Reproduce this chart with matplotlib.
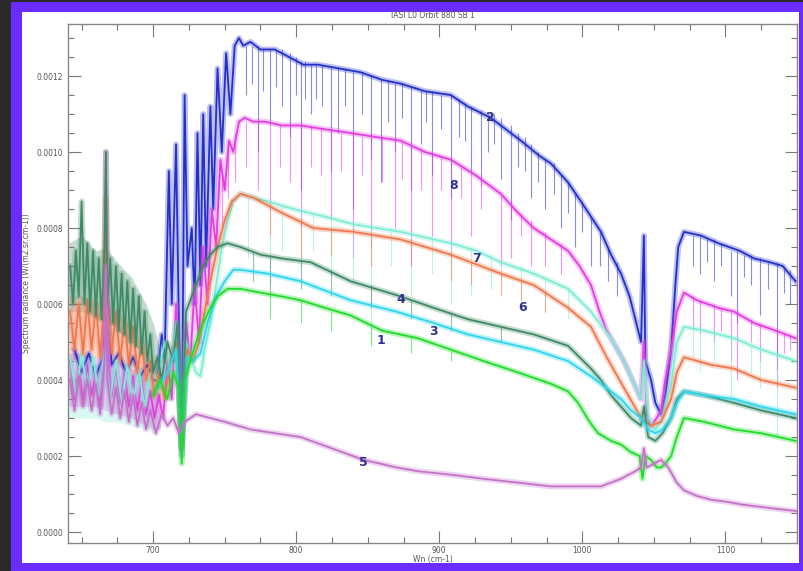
import matplotlib.pyplot as plt
from matplotlib.patches import Rectangle
from matplotlib.ticker import MultipleLocator, FormatStrFormatter

# ---- data (wavenumber cm-1, radiance) ----
# 1 : bright green
s1_wn = [700, 705, 710, 714, 718, 720, 722, 726, 730, 735, 740, 745, 752, 761, 775, 790,
         803, 820, 838, 860, 885, 908, 931, 955, 978, 990, 997, 1005, 1011, 1020, 1027,
         1034, 1040, 1042, 1044, 1048, 1052, 1055, 1058, 1062, 1066, 1071, 1085, 1106,
         1125, 1149]
s1_val = [0.00036, 0.00040, 0.00035, 0.00042, 0.00038, 0.00018, 0.00040, 0.00045, 0.00050,
          0.00055, 0.00059, 0.00062, 0.00064, 0.00064, 0.00063, 0.00062, 0.00061, 0.00059,
          0.00057, 0.00053, 0.00051, 0.00048, 0.00045, 0.00042, 0.00039, 0.00037, 0.00034,
          0.00029, 0.00026, 0.00024, 0.00023, 0.00021, 0.00020, 0.00014, 0.00020, 0.00019,
          0.00017, 0.00017, 0.00018, 0.00020, 0.00025, 0.00030, 0.00029, 0.00027, 0.00026,
          0.00024]

# 2 : blue
s2_wn = [645, 650, 655, 660, 665, 668, 671, 676, 681, 686, 691, 696, 700, 703, 706, 708,
         711, 713, 716, 718, 720, 722, 724, 727, 729, 731, 733, 735, 737, 740, 742, 745,
         748, 751, 754, 757, 760, 763, 768, 775, 785, 795, 805, 815, 830, 845, 860, 873,
         890, 908, 920, 936, 957, 970, 978, 990, 999, 1006, 1013, 1020, 1027, 1033, 1037,
         1041, 1043, 1044, 1048, 1051, 1055, 1058, 1062, 1065, 1067, 1071, 1083, 1095,
         1110, 1120, 1131, 1140, 1149]
s2_val = [0.00048, 0.00042, 0.00047, 0.00041, 0.00046, 0.00060, 0.00044, 0.00047, 0.00042,
          0.00046, 0.00041, 0.00044, 0.00040, 0.00040, 0.00052, 0.00045, 0.00095, 0.00060,
          0.00102, 0.00055, 0.00020, 0.00115, 0.00070, 0.00080, 0.00060, 0.00105, 0.00065,
          0.00110, 0.00070, 0.00112, 0.00085, 0.00122, 0.00100, 0.00126, 0.00110, 0.00128,
          0.00130, 0.00128, 0.00129, 0.00127, 0.00127, 0.00125, 0.00123, 0.00123, 0.00122,
          0.00121, 0.00119, 0.00118, 0.00116, 0.00115, 0.00112, 0.00109, 0.00103, 0.00099,
          0.00097, 0.00092, 0.00087, 0.00083, 0.00079, 0.00073, 0.00068, 0.00062, 0.00056,
          0.00050, 0.00078, 0.00045, 0.00040, 0.00034, 0.00031, 0.00036, 0.00048, 0.00065,
          0.00075, 0.00079, 0.00078, 0.00076, 0.00074, 0.00072, 0.00071, 0.00070, 0.00066]

# 3 : cyan
s3_wn = [703, 710, 716, 720, 724, 728, 733, 738, 744, 750, 756, 761, 780, 803, 838, 870,
         896, 920, 943, 966, 990, 1006, 1013, 1020, 1027, 1034, 1041, 1046, 1051, 1056,
         1062, 1066, 1071, 1085, 1106, 1125, 1149]
s3_val = [0.00038, 0.00042, 0.00048, 0.00022, 0.00046, 0.00045, 0.00047, 0.00055, 0.00062,
          0.00066, 0.00069, 0.00069, 0.00068, 0.00066, 0.00061, 0.00058, 0.00055, 0.00052,
          0.00050, 0.00048, 0.00045, 0.00041, 0.00039, 0.00037, 0.00035, 0.00032, 0.00030,
          0.00027, 0.00026, 0.00027, 0.00030, 0.00034, 0.00037, 0.00036, 0.00035, 0.00033,
          0.00031]

# 4 : dark sea green
s4_wn = [642, 644, 646, 648, 650, 652, 654, 656, 658, 660, 662, 664, 666, 667, 668, 670,
         672, 674, 676, 678, 680, 682, 684, 686, 688, 690, 692, 694, 696, 698, 700, 703,
         706, 710, 714, 717, 720, 723, 727, 731, 735, 740, 745, 752, 761, 775, 790, 810,
         838, 873, 896, 920, 943, 966, 990, 1006, 1013, 1020, 1027, 1034, 1041, 1043,
         1046, 1051, 1056, 1062, 1066, 1071, 1085, 1106, 1125, 1149]
s4_val = [0.00070, 0.00060, 0.00074, 0.00062, 0.00087, 0.00060, 0.00076, 0.00058, 0.00074,
          0.00057, 0.00072, 0.00056, 0.00075, 0.00100, 0.00060, 0.00072, 0.00055, 0.00070,
          0.00053, 0.00068, 0.00052, 0.00066, 0.00050, 0.00064, 0.00049, 0.00062, 0.00047,
          0.00058, 0.00045, 0.00052, 0.00042, 0.00046, 0.00040, 0.00050, 0.00045, 0.00055,
          0.00022, 0.00058, 0.00062, 0.00066, 0.00070, 0.00073, 0.00075, 0.00076, 0.00075,
          0.00073, 0.00072, 0.00071, 0.00066, 0.00062, 0.00059, 0.00056, 0.00054, 0.00052,
          0.00049, 0.00043, 0.00040, 0.00036, 0.00033, 0.00030, 0.00028, 0.00033, 0.00025,
          0.00024, 0.00026, 0.00030, 0.00035, 0.00037, 0.00036, 0.00034, 0.00032, 0.00030]

# 5 : orchid
s5_wn = [642, 645, 648, 651, 654, 657, 660, 663, 666, 667, 668, 671, 674, 677, 680, 683,
         686, 689, 692, 695, 698, 702, 706, 710, 714, 718, 722, 730, 740, 750, 768, 785,
         803, 825, 847, 870, 885, 910, 931, 955, 978, 996, 1013, 1027, 1037, 1041, 1043,
         1045, 1050, 1055, 1060, 1066, 1071, 1080, 1090, 1100, 1112, 1125, 1138, 1150]
s5_val = [0.00040, 0.00032, 0.00041, 0.00033, 0.00040, 0.00032, 0.00039, 0.00031, 0.00045,
          0.00070, 0.00040, 0.00031, 0.00038, 0.00030, 0.00037, 0.00029, 0.00036, 0.00028,
          0.00034, 0.00027, 0.00032, 0.00026, 0.00031, 0.00028, 0.00030, 0.00026, 0.00029,
          0.00031, 0.00030, 0.00029, 0.00027, 0.00026, 0.00025, 0.00022, 0.00019, 0.00017,
          0.00016, 0.00015, 0.00014, 0.00013, 0.00012, 0.00012, 0.00012, 0.00014, 0.00016,
          0.00017, 0.00022, 0.00017, 0.00018, 0.00019, 0.00017, 0.00013, 0.00011, 0.000095,
          0.000085, 0.00008, 0.000072, 0.000066, 0.00006, 0.000055]

# 6 : coral
s6_wn = [642, 645, 648, 651, 654, 657, 660, 663, 666, 667, 668, 671, 674, 677, 680, 683,
         686, 689, 692, 695, 698, 701, 704, 708, 712, 716, 720, 724, 728, 732, 736, 740,
         745, 750, 755, 761, 770, 790, 812, 840, 873, 908, 943, 966, 990, 1006, 1017, 1029,
         1041, 1048, 1055, 1062, 1066, 1071, 1090, 1106, 1125, 1149]
s6_val = [0.00058, 0.00048, 0.00060, 0.00047, 0.00061, 0.00048, 0.00060, 0.00046, 0.00062,
          0.00088, 0.00058, 0.00047, 0.00058, 0.00045, 0.00056, 0.00044, 0.00054, 0.00042,
          0.00050, 0.00040, 0.00045, 0.00036, 0.00042, 0.00035, 0.00045, 0.00050, 0.00022,
          0.00048, 0.00045, 0.00050, 0.00058, 0.00066, 0.00075, 0.00082, 0.00087, 0.00089,
          0.00088, 0.00084, 0.00080, 0.00079, 0.00077, 0.00073, 0.00068, 0.00065, 0.00059,
          0.00054, 0.00046, 0.00038, 0.00030, 0.00028, 0.00029, 0.00035, 0.00042, 0.00046,
          0.00044, 0.00043, 0.00040, 0.00038]

# 7 : aquamarine
s7_wn = [642, 646, 650, 654, 658, 662, 666, 670, 674, 678, 682, 686, 690, 694, 698, 703,
         708, 712, 716, 720, 723, 727, 730, 733, 736, 740, 744, 748, 752, 756, 761, 770,
         780, 798, 820, 840, 873, 908, 926, 943, 966, 990, 1006, 1020, 1029, 1041, 1043,
         1046, 1051, 1056, 1062, 1066, 1071, 1085, 1106, 1125, 1149]
s7_val = [0.00046, 0.00036, 0.00047, 0.00037, 0.00046, 0.00036, 0.00048, 0.00035, 0.00045,
          0.00034, 0.00044, 0.00034, 0.00043, 0.00033, 0.00042, 0.00040, 0.00050, 0.00042,
          0.00055, 0.00020, 0.00050, 0.00045, 0.00042, 0.00041, 0.00048, 0.00055, 0.00065,
          0.00075, 0.00082, 0.00087, 0.00089, 0.00088, 0.00087, 0.00085, 0.00083, 0.00081,
          0.00079, 0.00076, 0.00074, 0.00071, 0.00068, 0.00064, 0.00058, 0.00051, 0.00045,
          0.00035, 0.00045, 0.00030, 0.00027, 0.00030, 0.00039, 0.00050, 0.00054, 0.00053,
          0.00051, 0.00048, 0.00045]

# 8 : magenta
s8_wn = [642, 645, 648, 651, 654, 657, 660, 663, 666, 667, 668, 671, 674, 677, 680, 683,
         686, 689, 692, 695, 698, 701, 704, 707, 710, 713, 716, 720, 723, 726, 729, 732,
         735, 738, 741, 744, 747, 750, 753, 756, 760, 764, 770, 778, 790, 803, 820, 838,
         855, 873, 890, 908, 925, 943, 955, 966, 978, 990, 998, 1006, 1012, 1017, 1023,
         1029, 1035, 1041, 1043, 1045, 1048, 1052, 1055, 1058, 1062, 1066, 1071, 1080,
         1095, 1106, 1120, 1135, 1149]
s8_val = [0.00045, 0.00035, 0.00043, 0.00034, 0.00044, 0.00036, 0.00042, 0.00033, 0.00050,
          0.00100, 0.00048, 0.00036, 0.00044, 0.00034, 0.00042, 0.00033, 0.00041, 0.00032,
          0.00040, 0.00031, 0.00037, 0.00030, 0.00036, 0.00030, 0.00045, 0.00035, 0.00060,
          0.00022, 0.00055, 0.00045, 0.00065, 0.00050, 0.00075, 0.00060, 0.00085, 0.00075,
          0.00098, 0.00090, 0.00103, 0.00100, 0.00108, 0.00109, 0.00108, 0.00108, 0.00107,
          0.00107, 0.00106, 0.00105, 0.00104, 0.00103, 0.00100, 0.00098, 0.00094, 0.00089,
          0.00084, 0.00080, 0.00077, 0.00074, 0.00070, 0.00065, 0.00058, 0.00053, 0.00049,
          0.00045, 0.00040, 0.00035, 0.00050, 0.00031, 0.00028, 0.00030, 0.00032, 0.00040,
          0.00048, 0.00058, 0.00063, 0.00061, 0.00059, 0.00058, 0.00055, 0.00053, 0.00051]

# absorption lines: position, top of line, bottom of line
s2_dip_wn = [765, 769, 773, 777, 782, 786, 790, 796, 800, 803, 806, 810, 814, 818, 824, 829,
             834, 840, 846, 852, 859, 864, 869, 874, 880, 887, 891, 895, 901, 908, 914, 918,
             922, 929, 934, 938, 943, 950, 955, 960, 964, 969, 974, 980, 985, 990, 995, 1000,
             1006, 1012, 1018, 1024,
             1077, 1082, 1087, 1092, 1097, 1104, 1108, 1113, 1118, 1124, 1130, 1136, 1141, 1145]
s2_dip_top = [0.00128, 0.00128, 0.00128, 0.00127, 0.00127, 0.00127, 0.00127, 0.00126, 0.00125,
              0.00124, 0.00124, 0.00123, 0.00123, 0.00123, 0.00122, 0.00122, 0.00122, 0.00121,
              0.00121, 0.00120, 0.00119, 0.00119, 0.00118, 0.00118, 0.00117, 0.00116, 0.00116,
              0.00116, 0.00115, 0.00115, 0.00114, 0.00113, 0.00112, 0.00111, 0.00110, 0.00110,
              0.00109, 0.00107, 0.00105, 0.00104, 0.00102, 0.00100, 0.00098, 0.00097, 0.00094,
              0.00092, 0.00089, 0.00087, 0.00083, 0.00079, 0.00075, 0.00071,
              0.00078, 0.00078, 0.00077, 0.00077, 0.00076, 0.00074, 0.00074, 0.00073, 0.00073,
              0.00072, 0.00071, 0.00071, 0.00070, 0.00069]
s2_dip_low = [0.00115, 0.00118, 0.00100, 0.00116, 0.00108, 0.00117, 0.00112, 0.00104, 0.00115,
              0.00090, 0.00114, 0.00110, 0.00114, 0.00112, 0.00095, 0.00105, 0.00112, 0.00085,
              0.00110, 0.00098, 0.00092, 0.00108, 0.00100, 0.00109, 0.00090, 0.00102, 0.00108,
              0.00094, 0.00106, 0.00088, 0.00104, 0.00103, 0.00095, 0.00091, 0.00100, 0.00102,
              0.00093, 0.00082, 0.00096, 0.00095, 0.00088, 0.00092, 0.00085, 0.00089, 0.00080,
              0.00084, 0.00075, 0.00079, 0.00070, 0.00070, 0.00066, 0.00062,
              0.00070, 0.00068, 0.00071, 0.00066, 0.00070, 0.00062, 0.00055, 0.00067, 0.00065,
              0.00057, 0.00064, 0.00043, 0.00063, 0.00060]

s8_dip_wn = [748, 752, 757, 765, 773, 782, 789, 796, 803, 810, 817, 824, 831, 840, 846, 852,
             860, 869, 874, 880, 887, 895, 901, 908, 915, 922, 929, 943, 950, 957, 964, 974,
             985, 1077, 1082, 1092, 1097, 1104, 1108, 1118, 1124, 1136, 1141, 1145]
s8_dip_top = [0.00095, 0.00102, 0.00105, 0.00108, 0.00108, 0.00108, 0.00107, 0.00107, 0.00107,
              0.00107, 0.00106, 0.00106, 0.00105, 0.00105, 0.00104, 0.00104, 0.00104, 0.00103,
              0.00103, 0.00102, 0.00101, 0.00100, 0.00099, 0.00098, 0.00096, 0.00095, 0.00093,
              0.00089, 0.00087, 0.00084, 0.00082, 0.00079, 0.00076, 0.00062, 0.00061, 0.00060,
              0.00059, 0.00058, 0.00058, 0.00056, 0.00055, 0.00053, 0.00052, 0.00052]
s8_dip_low = [0.00080, 0.00088, 0.00092, 0.00096, 0.00090, 0.00085, 0.00096, 0.00092, 0.00080,
              0.00096, 0.00094, 0.00082, 0.00095, 0.00072, 0.00094, 0.00075, 0.00092, 0.00080,
              0.00093, 0.00070, 0.00090, 0.00078, 0.00090, 0.00072, 0.00088, 0.00078, 0.00085,
              0.00070, 0.00072, 0.00078, 0.00070, 0.00070, 0.00068, 0.00054, 0.00052, 0.00050,
              0.00053, 0.00045, 0.00040, 0.00050, 0.00045, 0.00038, 0.00047, 0.00048]

s7_dip_wn = [766, 782, 790, 803, 812, 824, 840, 852, 866, 880, 895, 908, 922, 936, 943, 957,
             974, 990, 1077, 1082, 1092, 1104, 1118, 1124, 1136]
s7_dip_top = [0.00088, 0.00087, 0.00086, 0.00085, 0.00084, 0.00083, 0.00081, 0.00080, 0.00080,
              0.00078, 0.00077, 0.00076, 0.00075, 0.00073, 0.00071, 0.00070, 0.00067, 0.00064,
              0.00054, 0.00053, 0.00052, 0.00051, 0.00049, 0.00048, 0.00047]
s7_dip_low = [0.00072, 0.00065, 0.00074, 0.00070, 0.00074, 0.00068, 0.00066, 0.00050, 0.00070,
              0.00062, 0.00068, 0.00060, 0.00062, 0.00064, 0.00066, 0.00060, 0.00058, 0.00056,
              0.00046, 0.00042, 0.00045, 0.00035, 0.00042, 0.00038, 0.00025]

s6_dip_wn = [782, 803, 824, 852, 880, 908, 922, 943, 957, 974]
s6_dip_top = [0.00086, 0.00083, 0.00080, 0.00078, 0.00077, 0.00073, 0.00071, 0.00068, 0.00066,
              0.00063]
s6_dip_low = [0.00078, 0.00072, 0.00073, 0.00070, 0.00070, 0.00066, 0.00065, 0.00062, 0.00061,
              0.00058]

s4_dip_wn = [770, 782, 803, 824, 852, 880, 908, 943]
s4_dip_top = [0.00074, 0.00073, 0.00071, 0.00069, 0.00065, 0.00061, 0.00058, 0.00054]
s4_dip_low = [0.00066, 0.00062, 0.00064, 0.00062, 0.00059, 0.00056, 0.00053, 0.00050]

s1_dip_wn = [782, 803, 824, 852, 880, 908]
s1_dip_top = [0.00063, 0.00061, 0.00058, 0.00054, 0.00051, 0.00048]
s1_dip_low = [0.00056, 0.00055, 0.00053, 0.00049, 0.00047, 0.00045]

# CO2 band on the left: envelope of the dense line forest
band_wn = [641, 650, 660, 667, 675, 685, 695, 700, 705]
band4_hi = [0.00076, 0.00078, 0.00074, 0.00075, 0.00071, 0.00067, 0.00060, 0.00055, 0.00048]
band4_lo = [0.00058, 0.00058, 0.00056, 0.00056, 0.00053, 0.00050, 0.00046, 0.00043, 0.00040]
band6_hi = [0.00062, 0.00062, 0.00061, 0.00060, 0.00058, 0.00054, 0.00049, 0.00046, 0.00042]
band6_lo = [0.00045, 0.00046, 0.00046, 0.00045, 0.00044, 0.00041, 0.00037, 0.00035, 0.00034]
band8_hi = [0.00047, 0.00047, 0.00046, 0.00046, 0.00045, 0.00043, 0.00041, 0.00039, 0.00038]
band8_lo = [0.00033, 0.00033, 0.00033, 0.00032, 0.00031, 0.00030, 0.00028, 0.00027, 0.00027]
band7_hi = [0.00045, 0.00045, 0.00044, 0.00044, 0.00043, 0.00042, 0.00041, 0.00040, 0.00042]
band7_lo = [0.00030, 0.00030, 0.00030, 0.00029, 0.00029, 0.00028, 0.00027, 0.00026, 0.00028]

# curve labels (text, wn, radiance)
labels = ['1', '2', '3', '4', '5', '6', '7', '8']
label_wn = [859, 936, 896, 873, 847, 958, 926, 910]
label_val = [0.000503, 0.001092, 0.000529, 0.000613, 0.000182, 0.000590, 0.000721, 0.000911]

colors = {'1': '#1fdc2a', '2': '#2430c8', '3': '#2cd6ee', '4': '#3f8a66',
          '5': '#c472c8', '6': '#f0784e', '7': '#80ecd4', '8': '#e23ee0'}

series = {
    '2': (s2_wn, s2_val), '8': (s8_wn, s8_val), '7': (s7_wn, s7_val),
    '6': (s6_wn, s6_val), '4': (s4_wn, s4_val), '3': (s3_wn, s3_val),
    '1': (s1_wn, s1_val), '5': (s5_wn, s5_val),
}
dips = {'2': (s2_dip_wn, s2_dip_top, s2_dip_low),
        '8': (s8_dip_wn, s8_dip_top, s8_dip_low),
        '7': (s7_dip_wn, s7_dip_top, s7_dip_low),
        '6': (s6_dip_wn, s6_dip_top, s6_dip_low),
        '4': (s4_dip_wn, s4_dip_top, s4_dip_low),
        '1': (s1_dip_wn, s1_dip_top, s1_dip_low)}
bands = {'4': (band4_lo, band4_hi), '6': (band6_lo, band6_hi),
         '8': (band8_lo, band8_hi), '7': (band7_lo, band7_hi)}

fig = plt.figure(figsize=(8.04, 5.71), dpi=100)
fig.patch.set_facecolor('#2a2a2a')

# purple frame and white page behind the plot
bg = fig.add_axes([0, 0, 1, 1], zorder=-5)
bg.set_xlim(0, 804)
bg.set_ylim(571, 0)
bg.axis('off')
bg.add_patch(Rectangle((11, 2), 793, 569, facecolor='#6a2cff', edgecolor='none'))
bg.add_patch(Rectangle((22, 12), 777, 551, facecolor='white', edgecolor='none'))

ax = fig.add_axes([68 / 804, 28 / 571, 729 / 804, 519 / 571])
ax.set_facecolor('none')

for key, (lo, hi) in bands.items():
    ax.fill_between(band_wn, lo, hi, color=colors[key], alpha=0.3, lw=0)

for key, (wn, val) in series.items():
    c = colors[key]
    if key in dips:
        dw, dt, dl = dips[key]
        ax.vlines(dw, dl, dt, color=c, lw=0.8, alpha=0.55)
    ax.plot(wn, val, color=c, lw=4.2, alpha=0.3)
    ax.plot(wn, val, color=c, lw=1.3)

for t, x, y in zip(labels, label_wn, label_val):
    ax.text(x, y, t, color='#2e3192', fontsize=9, fontweight='bold', ha='center', va='center')

ax.set_xlim(640.5, 1150)
ax.set_ylim(-0.0000289, 0.001337)
ax.xaxis.set_major_locator(MultipleLocator(100))
ax.xaxis.set_minor_locator(MultipleLocator(25))
ax.yaxis.set_major_locator(MultipleLocator(0.0002))
ax.yaxis.set_minor_locator(MultipleLocator(0.00005))
ax.yaxis.set_major_formatter(FormatStrFormatter('%.4f'))
ax.tick_params(which='both', direction='in', top=True, right=True, colors='#777777',
               labelcolor='#555555', labelsize=5.5, width=0.8)
ax.tick_params(axis='x', pad=2)
ax.tick_params(which='major', length=9)
ax.tick_params(which='minor', length=4)
for sp in ax.spines.values():
    sp.set_color('#888888')
    sp.set_linewidth(1.0)

ax.set_title('IASI L0 Orbit 880 SB 1', fontsize=5.5, color='#555555', pad=4)
ax.set_xlabel('Wn (cm-1)', fontsize=5.5, color='#555555', labelpad=0)
ax.set_ylabel('Spectrum radiance (W/(m2.sr.cm-1))', fontsize=5.5, color='#555555', labelpad=4)

fig.savefig('out.png', dpi=100, facecolor=fig.get_facecolor())
